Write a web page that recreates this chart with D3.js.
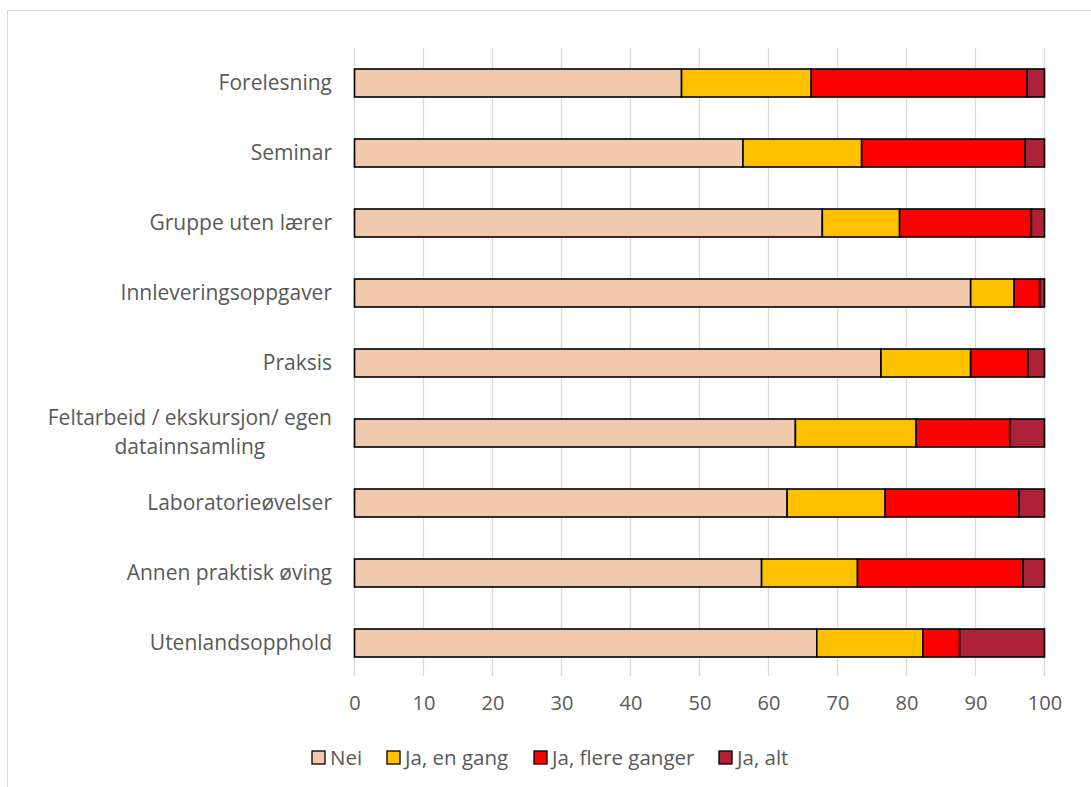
<!DOCTYPE html>
<html><head><meta charset="utf-8">
<script src="https://cdn.jsdelivr.net/npm/d3@7"></script>
<style>
html,body{margin:0;padding:0;background:#fff;}
text{font-family:"Open Sans", sans-serif;fill:#595959;}
</style></head>
<body>
<svg id="chart" width="1091" height="787"></svg>
<script>
const categories = ["Forelesning","Seminar","Gruppe uten lærer","Innleveringsoppgaver","Praksis","Feltarbeid / ekskursjon/ egen datainnsamling","Laboratorieøvelser","Annen praktisk øving","Utenlandsopphold"];
const seriesNames = ["Nei","Ja, en gang","Ja, flere ganger","Ja, alt"];
const nei       = [47.4, 56.3, 67.8, 89.3, 76.3, 63.9, 62.7, 59.0, 67.0];
const jaEnGang  = [18.8, 17.2, 11.2,  6.3, 13.0, 17.5, 14.2, 13.9, 15.4];
const jaFlere   = [31.3, 23.7, 19.1,  3.7,  8.3, 13.6, 19.4, 24.0,  5.3];
const jaAlt     = [ 2.5,  2.8,  1.9,  0.7,  2.4,  5.0,  3.7,  3.1, 12.3];
const xTicks = [0,10,20,30,40,50,60,70,80,90,100];
const colors = ["#F1C9AD","#FFC000","#FF0000","#AE2239"];
const FS = 21, FS_LEG = 20.5, FS_TICK = 20;

const svg = d3.select("#chart");
svg.append("rect").attr("x",7.5).attr("y",10.5).attr("width",1100).attr("height",800)
  .attr("fill","none").attr("stroke","#D9D9D9").attr("stroke-width",1);

const x = d3.scaleLinear().domain([0,100]).range([354.5,1044.5]);
const y = d3.scaleBand().domain(categories).range([48,678]).paddingInner(0.6).paddingOuter(0.3);

svg.append("g").selectAll("line").data(xTicks).join("line")
  .attr("x1",d=>x(d)).attr("x2",d=>x(d)).attr("y1",48).attr("y2",676)
  .attr("stroke","#D9D9D9").attr("stroke-width",1.3);

const rows = categories.map((c,i)=>({cat:c, vals:[nei[i],jaEnGang[i],jaFlere[i],jaAlt[i]]}));
const stackData = rows.map(r=>{const o={cat:r.cat}; seriesNames.forEach((s,k)=>o[s]=r.vals[k]); return o;});
const stacked = d3.stack().keys(seriesNames)(stackData);

svg.append("g").selectAll("g").data(stacked).join("g")
  .attr("fill",(d,i)=>colors[i])
  .selectAll("rect").data(d=>d).join("rect")
  .attr("x",d=>x(d[0])).attr("width",d=>x(d[1])-x(d[0]))
  .attr("y",d=>y(d.data.cat)).attr("height",y.bandwidth())
  .attr("stroke","#000").attr("stroke-width",1.6);

const labelG = svg.append("g");
categories.forEach(c=>{
  const cy = y(c)+y.bandwidth()/2;
  if(c.startsWith("Feltarbeid")){
    const lines = ["Feltarbeid / ekskursjon/ egen","datainnsamling"];
    const t = labelG.append("text").attr("font-size",FS).attr("x",332).attr("y",cy-15).attr("dy","0.35em")
      .attr("text-anchor","end").text(lines[0]);
    const w = t.node().getBBox().width;
    labelG.append("text").attr("font-size",FS).attr("x",332 - w/2).attr("y",cy+14).attr("dy","0.35em")
      .attr("text-anchor","middle").text(lines[1]);
  } else {
    labelG.append("text").attr("font-size",FS).attr("x",332).attr("y",cy).attr("dy","0.35em")
      .attr("text-anchor","end").text(c);
  }
});

const xAxis = d3.axisBottom(x).tickValues(xTicks).tickSize(0).tickPadding(0);
const ax = svg.append("g").attr("transform","translate(0,696)").call(xAxis);
ax.select(".domain").remove();
ax.selectAll("text").attr("font-size",FS_TICK).attr("fill","#595959").attr("dy","0.71em")
  .style("font-family","'Open Sans', sans-serif");

const legX = [312,387,534,719];
const lg = svg.append("g");
seriesNames.forEach((s,i)=>{
  lg.append("rect").attr("x",legX[i]).attr("y",751).attr("width",13).attr("height",13)
    .attr("fill",colors[i]).attr("stroke","#000").attr("stroke-width",1.3);
  lg.append("text").attr("x",legX[i]+18).attr("y",757.5).attr("dy","0.35em").attr("font-size",FS_LEG).text(s);
});
</script>
</body></html>
